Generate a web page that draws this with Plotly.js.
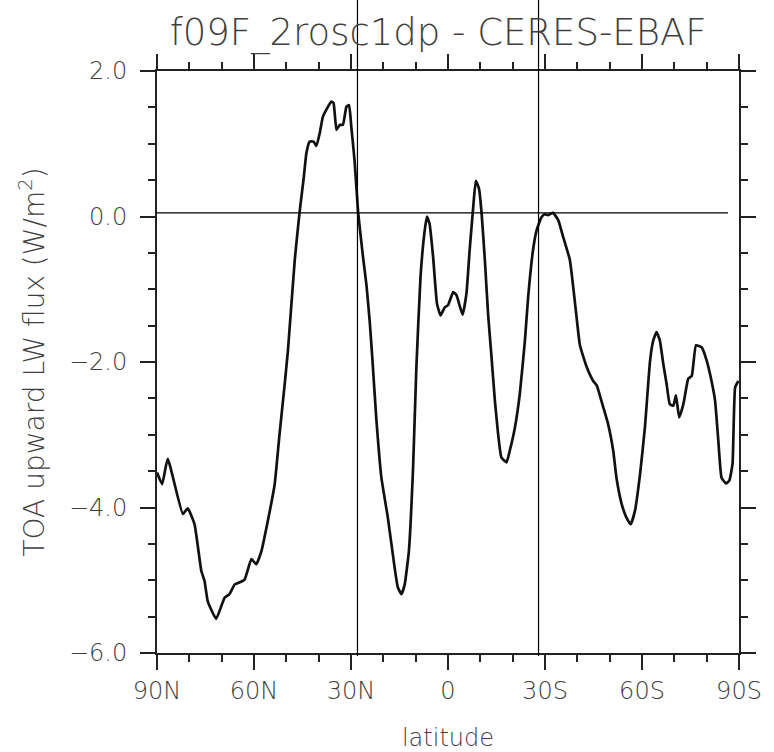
<!DOCTYPE html>
<html>
<head>
<meta charset="utf-8">
<script src="https://cdn.plot.ly/plotly-3.0.1.min.js"></script>
<style>html,body{margin:0;padding:0;background:#fff;}#chart{width:774px;height:752px;}</style>
</head>
<body>
<div id="chart"></div>
<script>
// Latitude (degrees, + = N, - = S)
const lat = [90.0, 88.4, 86.7, 82.0, 80.5, 78.4, 76.3, 75.3, 74.3, 71.7, 69.1, 67.6, 66.0, 65.0, 62.9, 60.8, 59.3, 57.7, 55.7, 53.6, 52.1, 50.5, 49.5, 47.4, 45.9, 44.6, 43.8, 42.8, 41.6, 40.7, 39.7, 38.7, 37.1, 36.1, 35.4, 34.5, 33.5, 32.5, 31.4, 30.6, 29.9, 28.9, 27.8, 26.3, 25.2, 24.2, 23.4, 22.2, 20.6, 18.6, 16.5, 15.5, 14.4, 13.4, 12.1, 10.8, 9.8, 8.5, 7.2, 6.5, 5.7, 4.6, 3.4, 2.3, 1.0, 0.0, -1.6, -2.6, -4.5, -5.7, -6.7, -7.8, -8.6, -9.6, -10.4, -11.4, -12.4, -13.4, -14.5, -15.5, -16.5, -18.1, -19.1, -20.7, -22.2, -23.8, -24.8, -26.3, -27.4, -28.9, -29.9, -31.0, -32.5, -34.1, -35.6, -37.7, -39.8, -40.8, -42.9, -44.9, -46.0, -48.0, -49.5, -51.1, -52.1, -53.7, -55.2, -56.5, -57.8, -59.4, -60.9, -62.5, -63.5, -64.5, -65.5, -66.6, -67.6, -68.6, -69.7, -70.5, -71.5, -72.8, -74.3, -75.4, -76.7, -78.5, -80.0, -81.5, -82.6, -83.6, -84.6, -86.0, -87.0, -88.0, -88.8, -89.8];
// TOA upward LW flux difference (W/m^2), model minus CERES-EBAF
const flux = [-3.52, -3.68, -3.33, -4.09, -4.01, -4.23, -4.87, -5.01, -5.29, -5.53, -5.24, -5.19, -5.06, -5.04, -4.99, -4.71, -4.78, -4.60, -4.18, -3.68, -2.99, -2.30, -1.84, -0.60, 0.06, 0.54, 0.87, 1.03, 1.03, 0.97, 1.14, 1.37, 1.51, 1.58, 1.56, 1.19, 1.26, 1.26, 1.51, 1.53, 1.23, 0.77, 0.06, -0.55, -0.95, -1.45, -1.95, -2.76, -3.59, -4.14, -4.83, -5.10, -5.19, -5.06, -4.60, -3.45, -2.10, -0.83, -0.19, 0.00, -0.10, -0.56, -1.20, -1.36, -1.25, -1.22, -1.04, -1.08, -1.35, -1.06, -0.46, 0.13, 0.49, 0.38, 0.04, -0.60, -1.34, -1.90, -2.53, -2.99, -3.31, -3.38, -3.22, -2.90, -2.44, -1.70, -1.10, -0.46, -0.19, -0.01, 0.03, 0.02, 0.05, -0.05, -0.28, -0.60, -1.40, -1.77, -2.07, -2.26, -2.32, -2.62, -2.85, -3.22, -3.59, -3.95, -4.14, -4.23, -4.05, -3.54, -2.90, -1.98, -1.70, -1.59, -1.70, -2.03, -2.30, -2.58, -2.60, -2.46, -2.76, -2.58, -2.23, -2.19, -1.77, -1.80, -1.98, -2.26, -2.53, -3.08, -3.59, -3.67, -3.63, -3.40, -2.35, -2.26];

// Axis ticks
const xTickVals = [90, 60, 30, 0, -30, -60, -90];
const xTickText = ['90N', '60N', '30N', '0', '30S', '60S', '90S'];
const yTickVals = [2, 0, -2, -4, -6];

// Reference lines
const refLat = [28, -28];          // vertical lines (latitudes)
const refLevel = 0.05;             // horizontal reference level
const refLevelSpan = [90, -86.6];  // latitude extent of horizontal line

const txtFont = {family: 'DejaVu Sans, sans-serif', color: '#3f3f3f', weight: 300};

const shapes = [];
refLat.forEach(function (v) {
  shapes.push({type: 'line', xref: 'x', yref: 'paper', x0: v, x1: v, y0: -0.005, y1: 1.125,
    line: {color: '#000', width: 1.2}, layer: 'above'});
});
shapes.push({type: 'line', xref: 'x', yref: 'y', x0: refLevelSpan[0], x1: refLevelSpan[1],
  y0: refLevel, y1: refLevel, line: {color: '#000', width: 1.2}, layer: 'above'});

const trace = {
  x: lat, y: flux, type: 'scatter', mode: 'lines',
  line: {color: '#111', width: 2.7, shape: 'spline', smoothing: 0.4},
  hoverinfo: 'skip'
};

const axisCommon = {
  showgrid: false, zeroline: false, showline: true, linecolor: '#222', linewidth: 2,
  ticks: 'outside', ticklen: 15, tickwidth: 2, tickcolor: '#222', mirror: 'ticks',
  tickfont: Object.assign({size: 24}, txtFont)
};

const layout = {
  width: 774, height: 752,
  margin: {l: 157, r: 35, t: 71, b: 99},
  paper_bgcolor: '#fff', plot_bgcolor: '#fff',
  showlegend: false,
  title: {text: 'f09F_2rosc1dp - CERES-EBAF', x: 0.566, xanchor: 'center', xref: 'container',
    y: 0.958, yanchor: 'middle', yref: 'container',
    font: Object.assign({size: 37}, txtFont)},
  xaxis: Object.assign({}, axisCommon, {
    range: [90, -90], tickmode: 'array', tickvals: xTickVals, ticktext: xTickText,
    minor: {dtick: 10, ticklen: 7, tickwidth: 2, tickcolor: '#222', ticks: 'outside'},
    title: {text: 'latitude', standoff: 26, font: Object.assign({size: 24}, txtFont)}
  }),
  yaxis: Object.assign({}, axisCommon, {
    range: [-6, 2], tickmode: 'array', tickvals: yTickVals, tickformat: '.1f',
    minor: {dtick: 0.5, ticklen: 7, tickwidth: 2, tickcolor: '#222', ticks: 'outside'},
    ticklabelstandoff: 8,
    title: {text: 'TOA upward LW flux (W/m<sup>2</sup>)', standoff: 16, font: Object.assign({size: 28}, txtFont)}
  }),
  shapes: shapes
};

Plotly.newPlot('chart', [trace], layout, {staticPlot: true, displayModeBar: false});
</script>
</body>
</html>
